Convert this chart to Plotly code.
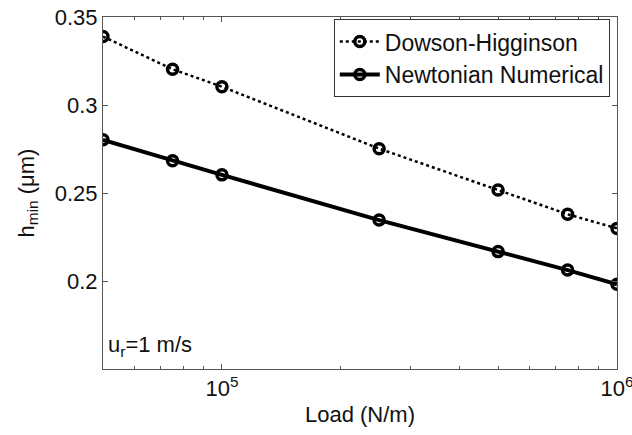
import plotly.graph_objects as go

load = [5e4, 7.5e4, 1e5, 2.5e5, 5e5, 7.5e5, 1e6]
dowson_higginson = [0.3389, 0.3203, 0.3104, 0.2752, 0.2517, 0.2379, 0.2299]
newtonian = [0.2802, 0.2683, 0.2603, 0.2346, 0.2167, 0.2062, 0.1981]

x_tickvals = [1e5, 1e6]
x_ticktext = ["10<sup>5</sup>", "10<sup>6</sup>"]
x_minor = [6e4, 7e4, 8e4, 9e4, 2e5, 3e5, 4e5, 5e5, 6e5, 7e5, 8e5, 9e5]
y_tickvals = [0.2, 0.25, 0.3, 0.35]
y_ticktext = ["0.2", "0.25", "0.3", "0.35"]

FONT = "Liberation Sans, Arial, Helvetica, sans-serif"

fig = go.Figure()
fig.add_trace(go.Scatter(
    x=load, y=dowson_higginson, name="Dowson-Higginson",
    mode="lines+markers",
    line=dict(color="black", width=2.5, dash="dot"),
    marker=dict(symbol="circle-open", size=10, color="black", line=dict(width=3.5, color="black")),
))
fig.add_trace(go.Scatter(
    x=load, y=newtonian, name="Newtonian Numerical",
    mode="lines+markers",
    line=dict(color="black", width=4),
    marker=dict(symbol="circle-open", size=10, color="black", line=dict(width=3.5, color="black")),
))

axis_common = dict(
    showline=True, linecolor="#555555", linewidth=1, mirror="ticks",
    ticks="inside", ticklen=5, tickcolor="#555555", showgrid=False, zeroline=False,
    tickfont=dict(family=FONT, size=22, color="#111111"),
    automargin=False,
)

fig.update_xaxes(
    type="log", range=[4.69897, 6.0],
    tickvals=x_tickvals, ticktext=x_ticktext,
    ticklabeloverflow="allow",
    minor=dict(tickvals=x_minor, ticks="inside", ticklen=3, tickcolor="#555555"),
    title=dict(text="Load (N/m)", font=dict(family=FONT, size=22, color="#111111"), standoff=6),
    **axis_common,
)
fig.update_yaxes(
    range=[0.15, 0.35],
    tickvals=y_tickvals, ticktext=y_ticktext,
    title=dict(text="h<sub>min</sub> (μm)", font=dict(family=FONT, size=22, color="#111111"), standoff=14),
    **axis_common,
)

fig.add_annotation(
    x=0.005, y=0.02, xref="paper", yref="paper", xanchor="left", yanchor="bottom",
    text="u<sub>r</sub>=1 m/s", showarrow=False,
    font=dict(family=FONT, size=22, color="#111111"),
)

fig.update_layout(
    width=632, height=435,
    margin=dict(l=103, r=15, t=17, b=66),
    paper_bgcolor="white", plot_bgcolor="white",
    showlegend=True,
    legend=dict(
        x=0.986, y=0.994, xanchor="right", yanchor="top",
        bgcolor="white", bordercolor="#333333", borderwidth=1,
        font=dict(family=FONT, size=23, color="#111111"),
        itemwidth=40, tracegroupgap=0,
    ),
)

fig.write_html("out.html")
